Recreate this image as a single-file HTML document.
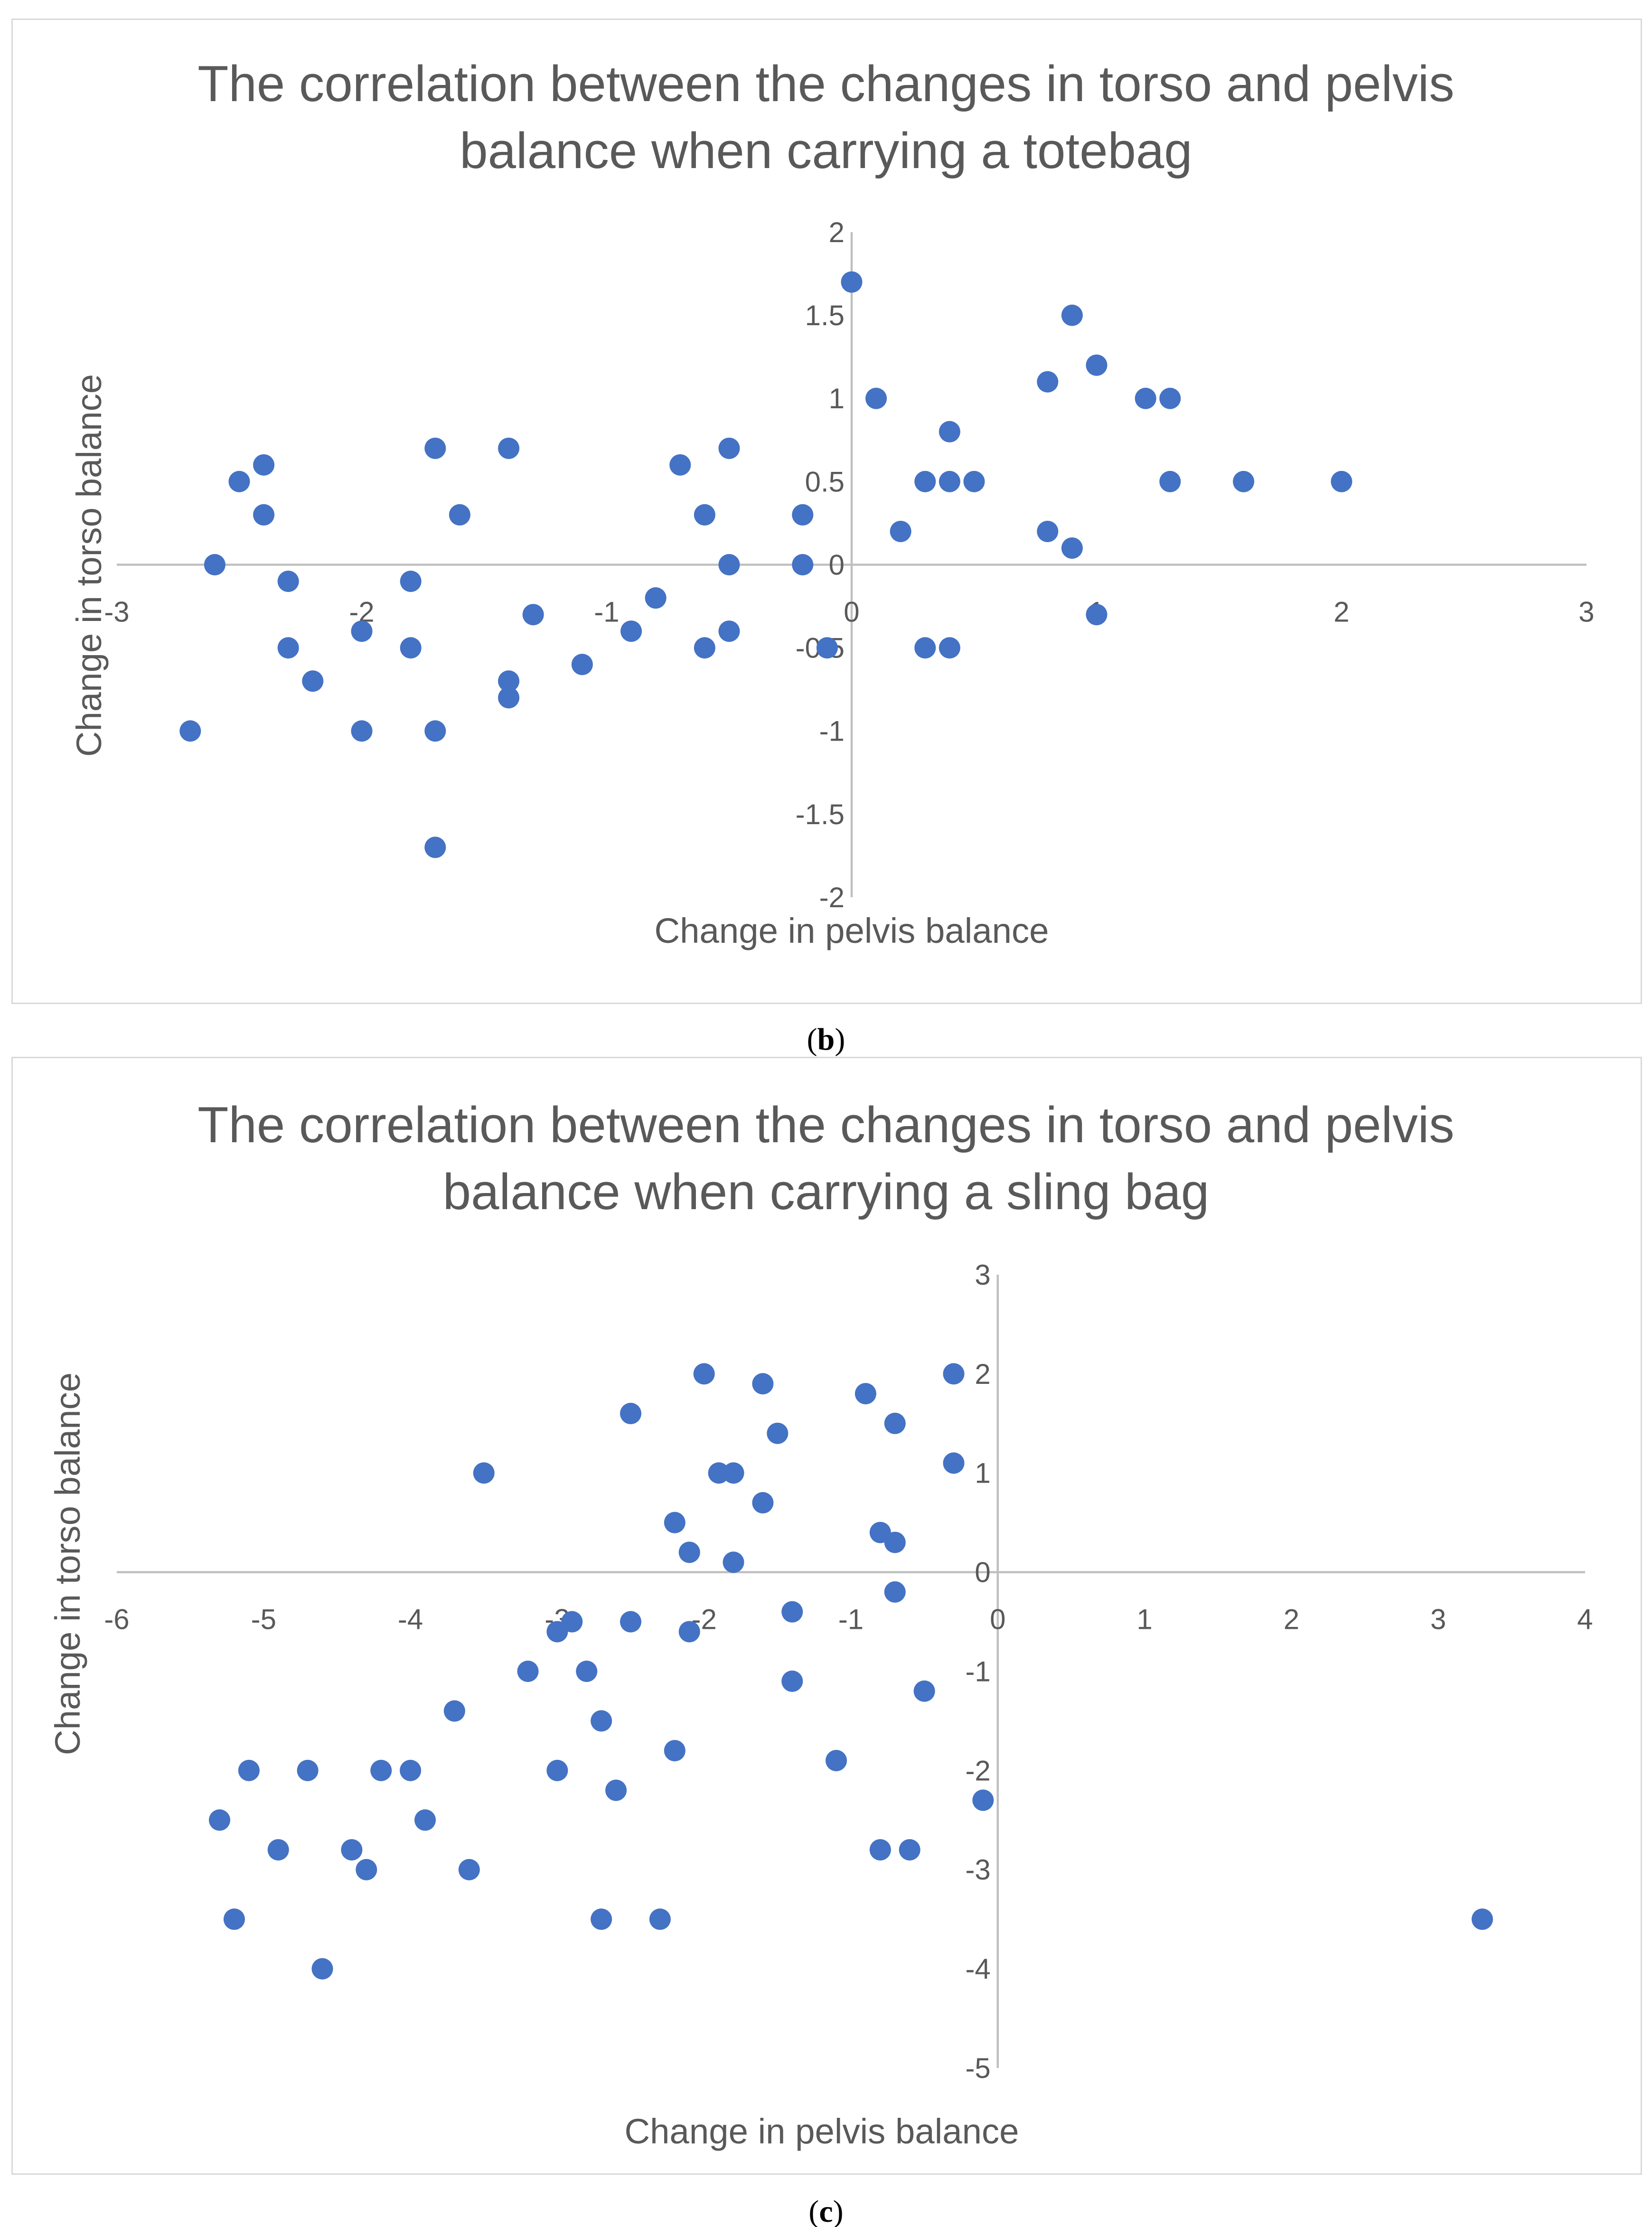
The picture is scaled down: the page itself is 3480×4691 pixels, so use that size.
<!DOCTYPE html>
<html><head><meta charset="utf-8">
<style>
html,body{margin:0;padding:0;background:#fff;}
svg{display:block;font-family:"Liberation Sans",Calibri,sans-serif;}
</style></head>
<body>
<svg id="root" width="3480" height="4691" viewBox="0 0 1160 1563.67" xmlns="http://www.w3.org/2000/svg">
<rect x="0" y="0" width="1160" height="1563.67" fill="#fff"/>
<g id="chartB">
<rect x="8.5" y="13.5" width="1144" height="691" fill="#fff" stroke="#d9d9d9" stroke-width="1"/>
<text x="580" y="71" text-anchor="middle" font-size="35.6" fill="#595959">The correlation between the changes in torso and pelvis</text>
<text x="580" y="118" text-anchor="middle" font-size="35.6" fill="#595959">balance when carrying a totebag</text>
<text x="598" y="662" text-anchor="middle" font-size="24.8" fill="#595959">Change in pelvis balance</text>
<text transform="translate(71,397) rotate(-90)" text-anchor="middle" font-size="24.8" fill="#595959">Change in torso balance</text>
</g>
<text x="580" y="737" text-anchor="middle" font-size="22" fill="#000" font-family="Liberation Serif,serif">(<tspan font-weight="bold">b</tspan>)</text>
<g id="chartC">
<rect x="8.5" y="742.5" width="1144" height="784" fill="#fff" stroke="#d9d9d9" stroke-width="1"/>
<text x="580" y="802" text-anchor="middle" font-size="35.6" fill="#595959">The correlation between the changes in torso and pelvis</text>
<text x="580" y="849" text-anchor="middle" font-size="35.6" fill="#595959">balance when carrying a sling bag</text>
<text x="577" y="1505" text-anchor="middle" font-size="24.8" fill="#595959">Change in pelvis balance</text>
<text transform="translate(56,1098) rotate(-90)" text-anchor="middle" font-size="24.8" fill="#595959">Change in torso balance</text>
</g>
<text x="580" y="1560" text-anchor="middle" font-size="22" fill="#000" font-family="Liberation Serif,serif">(<tspan font-weight="bold">c</tspan>)</text>
</svg>
<script>
const bX = [-2.7,-2.6,-2.5,-2.4,-2.4,-2.3,-2.3,-2.2,-2,-2,-1.8,-1.8,-1.7,-1.7,-1.7,-1.6,-1.4,-1.4,-1.4,-1.3,-1.1,-0.9,-0.8,-0.7,-0.6,-0.6,-0.5,-0.5,-0.5,-0.2,-0.2,-0.1,0,0.1,0.2,0.3,0.3,0.4,0.4,0.4,0.5,0.8,0.8,0.9,0.9,1,1,1.2,1.3,1.3,1.6,2];
const bY = [-1,0,0.5,0.6,0.3,-0.1,-0.5,-0.7,-0.4,-1,-0.1,-0.5,0.7,-1,-1.7,0.3,0.7,-0.7,-0.8,-0.3,-0.6,-0.4,-0.2,0.6,0.3,-0.5,0.7,0,-0.4,0.3,0,-0.5,1.7,1,0.2,0.5,-0.5,0.8,0.5,-0.5,0.5,1.1,0.2,1.5,0.1,1.2,-0.3,1,1,0.5,0.5,0.5];
const bXTicks = [-3,-2,-1,0,1,2,3];
const bYTicks = [-2,-1.5,-1,-0.5,0,0.5,1,1.5,2];
const cX = [-5.3,-5.2,-5.1,-4.9,-4.7,-4.6,-4.4,-4.3,-4.2,-4,-3.9,-3.7,-3.6,-3.5,-3.2,-3,-3,-2.9,-2.8,-2.7,-2.7,-2.6,-2.5,-2.5,-2.3,-2.2,-2.2,-2.1,-2.1,-2,-1.9,-1.8,-1.8,-1.6,-1.6,-1.5,-1.4,-1.4,-1.1,-0.9,-0.8,-0.8,-0.7,-0.7,-0.7,-0.6,-0.5,-0.3,-0.3,-0.1,3.3];
const cY = [-2.5,-3.5,-2,-2.8,-2,-4,-2.8,-3,-2,-2,-2.5,-1.4,-3,1,-1,-0.6,-2,-0.5,-1,-1.5,-3.5,-2.2,1.6,-0.5,-3.5,0.5,-1.8,0.2,-0.6,2,1,1,0.1,1.9,0.7,1.4,-0.4,-1.1,-1.9,1.8,0.4,-2.8,1.5,0.3,-0.2,-2.8,-1.2,2,1.1,-2.3,-3.5];
const cXTicks = [-6,-5,-4,-3,-2,-1,0,1,2,3,4];
const cYTicks = [-5,-4,-3,-2,-1,0,1,2,3];

const NS = 'http://www.w3.org/2000/svg';
function mk(tag, attrs, parent){const e=document.createElementNS(NS,tag);for(const k in attrs)e.setAttribute(k,attrs[k]);parent.appendChild(e);return e;}
function draw(gid, pre, xs, ys, xt, yt, xr, yr, px, py){
  const g=document.getElementById(gid);
  const sx=v=>px[0]+(v-xr[0])/(xr[1]-xr[0])*(px[1]-px[0]);
  const sy=v=>py[0]+(v-yr[0])/(yr[1]-yr[0])*(py[1]-py[0]);
  const x0=sx(0), y0=sy(0);
  const xa=mk('line',{x1:px[0],x2:px[1],y1:y0,y2:y0,stroke:'#bfbfbf','stroke-width':1.5},g);
  
  
  const ya=mk('line',{x1:x0,x2:x0,y1:py[1],y2:py[0],stroke:'#bfbfbf','stroke-width':1.5},g);
  
  
  xt.forEach(v=>{const t=mk('text',{x:sx(v),y:y0+40,'text-anchor':'middle','font-size':20,fill:'#595959'},g);t.textContent=String(v);
    
    });
  yt.forEach(v=>{const t=mk('text',{x:x0-5,y:sy(v)+7,'text-anchor':'end','font-size':20,fill:'#595959'},g);t.textContent=String(v);
    
    });
  xs.forEach((v,i)=>{const c=mk('circle',{cx:sx(v),cy:sy(ys[i]),r:7.5,fill:'#4472c4'},g);
    
    });
}
draw('chartB','chart-b',bX,bY,bXTicks,bYTicks,[-3,3],[-2,2],[82,1114],[630,163]);
draw('chartC','chart-c',cX,cY,cXTicks,cYTicks,[-6,4],[-5,3],[82,1113],[1452,895]);
</script>
</body></html>
